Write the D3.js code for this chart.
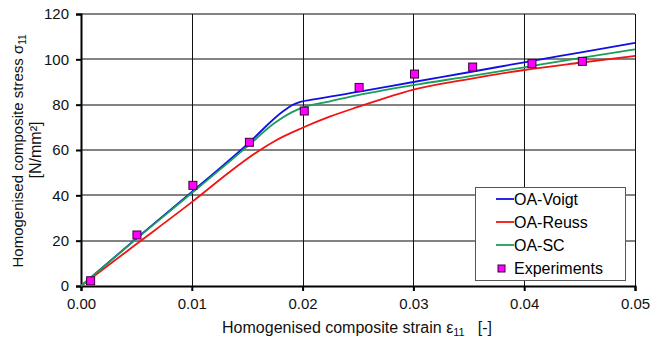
<!DOCTYPE html>
<html>
<head>
<meta charset="utf-8">
<script src="https://cdn.jsdelivr.net/npm/d3@7"></script>
<style>
body { margin: 0; background: #fff; }
text { font-family: "Liberation Sans", Arial, sans-serif; }
</style>
</head>
<body>
<div id="chart"></div>
<script>
var w = 653;
var h = 344;

// strain values (x) and stresses for each model
var voigtX = [0, 0.005, 0.01, 0.015, 0.0183, 0.019, 0.0198, 0.021, 0.025, 0.03, 0.035, 0.04, 0.045, 0.05];
var voigtY = [0, 21, 41.5, 62.5, 77.3, 79.6, 81.2, 82.3, 85.6, 90, 94.3, 98.7, 103, 107.3];
var reussX = [0, 0.005, 0.01, 0.014, 0.016, 0.0175, 0.02, 0.0225, 0.025, 0.0275, 0.03, 0.035, 0.04, 0.045, 0.05];
var reussY = [0, 18.5, 37, 52.5, 59.5, 64, 69.8, 74.8, 79, 83, 86.6, 91.3, 95.3, 98.5, 101.5];
var scX = [0, 0.005, 0.01, 0.015, 0.0175, 0.019, 0.0198, 0.0225, 0.025, 0.03, 0.035, 0.04, 0.045, 0.05];
var scY = [0, 20.8, 41, 61.5, 72, 76.6, 78.4, 81.5, 84.2, 88.6, 92.5, 96.5, 100.5, 104.4];
var expX = [0.00087, 0.00505, 0.0101, 0.0152, 0.02015, 0.0251, 0.0301, 0.03535, 0.0407, 0.04525];
var expY = [2.3, 22.5, 44.4, 63.4, 77.2, 87.6, 93.5, 96.6, 98.1, 99.1];

var xTicks = [0, 0.01, 0.02, 0.03, 0.04, 0.05];
var yTicks = [0, 20, 40, 60, 80, 100, 120];

var pLeft = 81, pRight = 635, pTop = 14, pBottom = 286;

var xScale = d3.scaleLinear().domain([0, 0.05]).range([pLeft, pRight]);
var yScale = d3.scaleLinear().domain([0, 120]).range([pBottom, pTop]);

var svg = d3.select("#chart")
            .append("svg")
            .attr("width", w)
            .attr("height", h);

// grid
svg.selectAll("line.hgrid")
    .data(yTicks.slice(1))
    .enter()
    .append("line")
    .attr("x1", pLeft)
    .attr("x2", pRight)
    .attr("y1", function(d) { return Math.round(yScale(d)); })
    .attr("y2", function(d) { return Math.round(yScale(d)); })
    .attr("stroke", "#5a5a5a")
    .attr("stroke-width", 1.5);
svg.selectAll("line.vgrid")
    .data(xTicks.slice(1))
    .enter()
    .append("line")
    .attr("y1", pTop)
    .attr("y2", pBottom)
    .attr("x1", function(d) { return Math.round(xScale(d)) + 0.5; })
    .attr("x2", function(d) { return Math.round(xScale(d)) + 0.5; })
    .attr("stroke", "#111")
    .attr("stroke-width", 1);

// axes
var xAxis = d3.axisBottom(xScale).tickValues(xTicks).tickFormat(d3.format(".2f")).tickSize(5);
var yAxis = d3.axisLeft(yScale).tickValues(yTicks).tickSize(5);
var gx = svg.append("g").attr("transform", "translate(0," + pBottom + ")").call(xAxis);
var gy = svg.append("g").attr("transform", "translate(" + pLeft + ",0)").call(yAxis);
[gx, gy].forEach(function(g) {
    g.select(".domain").attr("stroke", "#000").attr("stroke-width", 2);
    g.selectAll(".tick line").attr("stroke", "#000").attr("stroke-width", 2);
    g.selectAll(".tick text").attr("font-size", "15px").attr("fill", "#111")
        .attr("font-family", "Liberation Sans, Arial, sans-serif");
});
gx.selectAll(".tick text").attr("dy", "1.0em");
gy.selectAll(".tick text").attr("x", -12);

// lines
var line = d3.line()
    .x(function(d) { return xScale(d[0]); })
    .y(function(d) { return yScale(d[1]); })
    .curve(d3.curveMonotoneX);

var series = [
    { name: "OA-Voigt", xs: voigtX, ys: voigtY, color: "#1010e0" },
    { name: "OA-Reuss", xs: reussX, ys: reussY, color: "#f01414" },
    { name: "OA-SC", xs: scX, ys: scY, color: "#1a9e5c" }
];
series.forEach(function(s) {
    svg.append("path")
        .datum(d3.zip(s.xs, s.ys))
        .attr("d", line)
        .attr("fill", "none")
        .attr("stroke", s.color)
        .attr("stroke-width", 1.8);
});

// experiments
svg.selectAll("rect.exp")
    .data(d3.zip(expX, expY))
    .enter()
    .append("rect")
    .attr("x", function(d) { return xScale(d[0]) - 4; })
    .attr("y", function(d) { return yScale(d[1]) - 4; })
    .attr("width", 8)
    .attr("height", 8)
    .attr("fill", "#ff00ff")
    .attr("stroke", "#3a003a")
    .attr("stroke-width", 1);

// legend
var lg = svg.append("g").attr("transform", "translate(475,187)");
lg.append("rect")
    .attr("x", 0.5).attr("y", 0.5)
    .attr("width", 150).attr("height", 93)
    .attr("fill", "#fff")
    .attr("stroke", "#555");
series.forEach(function(s, i) {
    var yy = 12 + i * 23;
    lg.append("line")
        .attr("x1", 21).attr("x2", 39)
        .attr("y1", yy).attr("y2", yy)
        .attr("stroke", s.color).attr("stroke-width", 1.8);
    lg.append("text")
        .attr("x", 39).attr("y", yy + 6)
        .attr("font-size", "16px")
        .text(s.name);
});
lg.append("rect")
    .attr("x", 23).attr("y", 78).attr("width", 7).attr("height", 7)
    .attr("fill", "#ff00ff").attr("stroke", "#3a003a");
lg.append("text")
    .attr("x", 39).attr("y", 87)
    .attr("font-size", "16px")
    .text("Experiments");

// axis titles
var xt = svg.append("text")
    .attr("x", 357).attr("y", 333)
    .attr("text-anchor", "middle")
    .attr("font-size", "16px")
    .attr("fill", "#111");
xt.append("tspan").text("Homogenised composite strain \u03b5");
xt.append("tspan").attr("font-size", "11px").attr("dy", 3).text("11");
xt.append("tspan").attr("dy", -3).attr("dx", 13).text("[-]");

var yt = svg.append("text")
    .attr("transform", "translate(23,151) rotate(-90)")
    .attr("text-anchor", "middle")
    .attr("font-size", "15px")
    .attr("fill", "#111");
yt.append("tspan").text("Homogenised composite stress \u03c3");
yt.append("tspan").attr("font-size", "10px").attr("dy", 3).text("11");
svg.append("text")
    .attr("transform", "translate(41,150) rotate(-90)")
    .attr("text-anchor", "middle")
    .attr("font-size", "16px")
    .attr("fill", "#111")
    .text("[N/mm\u00b2]");
</script>
</body>
</html>
